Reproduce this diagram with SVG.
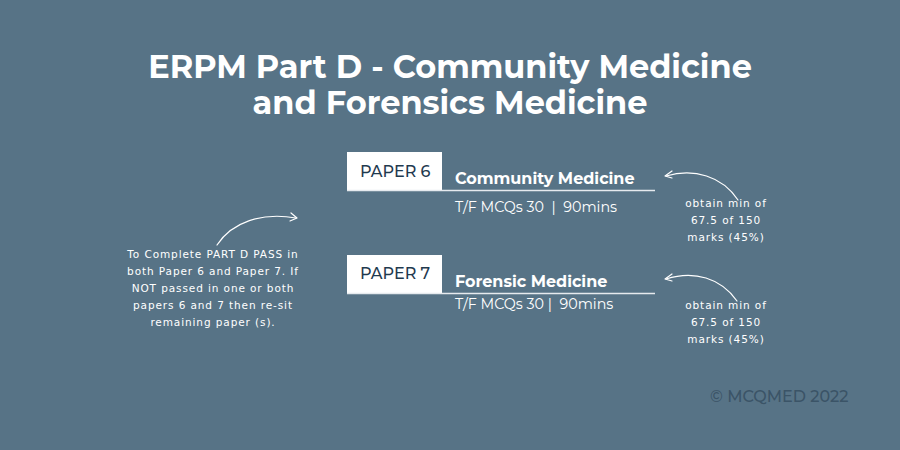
<svg xmlns="http://www.w3.org/2000/svg" width="900" height="450" viewBox="0 0 900 450">
<style>
.title{font-family:"Montserrat","Open Sans","Liberation Sans",sans-serif;font-weight:700;font-size:32px;fill:#ffffff;text-anchor:middle}
.box{fill:#ffffff}
.ptxt{font-family:"Montserrat","Open Sans","Liberation Sans",sans-serif;font-weight:500;font-size:16px;fill:#1f3a4f}
.subj{font-family:"Montserrat","Open Sans","Liberation Sans",sans-serif;font-weight:700;font-size:16px;fill:#ffffff}
.info{font-family:"Montserrat","Open Sans","Liberation Sans",sans-serif;font-size:14.3px;fill:#ffffff}
.rule{stroke:#e6eaee;stroke-width:1.5}
.note{font-family:"DejaVu Sans","Liberation Sans",sans-serif;font-size:10.5px;fill:#ffffff;text-anchor:middle;letter-spacing:0.9px}
.arrow{fill:none;stroke:#ffffff;stroke-width:1.2;stroke-linecap:round;stroke-linejoin:round}
.copy{font-family:"Montserrat","Open Sans","Liberation Sans",sans-serif;font-weight:500;font-size:16px;fill:#3b5467}
</style>
<rect width="900" height="450" fill="#577386"/>
<g id="title">
<text class="title" x="450" y="78">ERPM Part D - Community Medicine</text>
<text class="title" x="450" y="114">and Forensics Medicine</text>
</g>
<g id="paper6">
<rect class="box" x="347" y="152" width="95" height="38"/>
<text class="ptxt" x="360" y="177">PAPER 6</text>
<line class="rule" x1="347" y1="190.5" x2="655" y2="190.5"/>
<text class="subj" x="455" y="183.5">Community Medicine</text>
<text class="info" x="455" y="212" xml:space="preserve">T/F MCQs 30  |  90mins</text>
</g>
<g id="paper7">
<rect class="box" x="347" y="255" width="95" height="38"/>
<text class="ptxt" x="360" y="279">PAPER 7</text>
<line class="rule" x1="347" y1="293.5" x2="655" y2="293.5"/>
<text class="subj" x="455" y="286.5">Forensic Medicine</text>
<text class="info" x="455" y="309" xml:space="preserve">T/F MCQs 30 |  90mins</text>
</g>
<g id="note-left">
<text class="note" x="213" y="258">To Complete PART D PASS in</text>
<text class="note" x="213" y="275">both Paper 6 and Paper 7. If</text>
<text class="note" x="213" y="292">NOT passed in one or both</text>
<text class="note" x="213" y="309">papers 6 and 7 then re-sit</text>
<text class="note" x="213" y="326">remaining paper (s).</text>
</g>
<g id="note-p6">
<text class="note" x="726" y="207">obtain min of</text>
<text class="note" x="726" y="224">67.5 of 150</text>
<text class="note" x="726" y="241">marks (45%)</text>
</g>
<g id="note-p7">
<text class="note" x="726" y="309">obtain min of</text>
<text class="note" x="726" y="326">67.5 of 150</text>
<text class="note" x="726" y="343">marks (45%)</text>
</g>
<g id="connectors">
<path class="arrow" d="M217,245 C232,222 262,212 296,218"/>
<path class="arrow" d="M291,213 L297,218 L290,221"/>
<path class="arrow" d="M738,200 C722,176 694,168 666,176"/>
<path class="arrow" d="M672,171 L665,176 L672,178"/>
<path class="arrow" d="M737,301 C721,278 694,270 666,279"/>
<path class="arrow" d="M672,274 L665,279 L672,281"/>
</g>
<g id="copyright">
<text class="copy" x="710" y="402">© MCQMED 2022</text>
</g>
</svg>
